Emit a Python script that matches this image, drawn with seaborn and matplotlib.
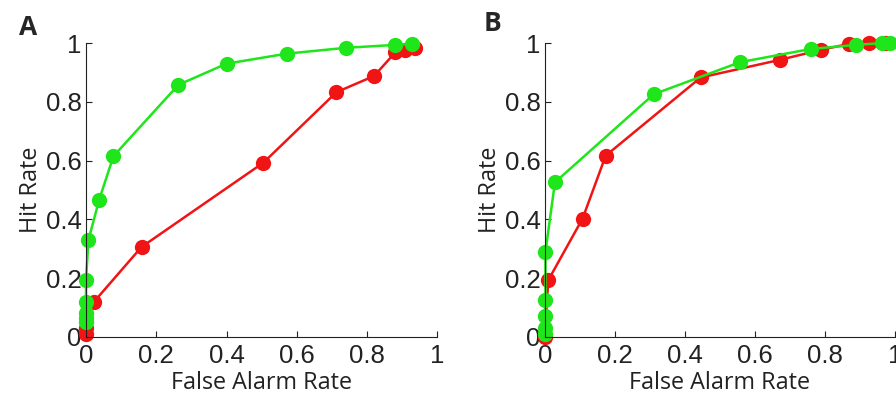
import matplotlib
matplotlib.use("Agg")
import matplotlib.pyplot as plt
import seaborn as sns

# panel A
a_green_x = [0.0, 0.0, 0.0, 0.0, 0.0, 0.007, 0.037, 0.078, 0.263, 0.40, 0.571, 0.739, 0.881, 0.927]
a_green_y = [0.05, 0.065, 0.08, 0.12, 0.195, 0.33, 0.465, 0.615, 0.858, 0.93, 0.964, 0.984, 0.994, 0.998]
a_red_x = [0.0, 0.0, 0.023, 0.158, 0.505, 0.713, 0.82, 0.881, 0.908, 0.936]
a_red_y = [0.01, 0.03, 0.12, 0.306, 0.593, 0.833, 0.888, 0.969, 0.975, 0.983]

# panel B
b_green_x = [0.0, 0.0, 0.0, 0.002, 0.002, 0.029, 0.311, 0.557, 0.759, 0.888, 0.962, 0.986]
b_green_y = [0.01, 0.03, 0.07, 0.125, 0.29, 0.526, 0.826, 0.935, 0.98, 0.994, 1.0, 1.0]
b_red_x = [0.0, 0.01, 0.108, 0.174, 0.445, 0.671, 0.788, 0.867, 0.926, 0.971]
b_red_y = [0.0, 0.193, 0.403, 0.617, 0.883, 0.943, 0.977, 0.997, 1.0, 1.0]

ticks = [0, 0.2, 0.4, 0.6, 0.8, 1]
tick_labels = ["0", "0.2", "0.4", "0.6", "0.8", "1"]
panels = ["A", "B"]
letter_pos = [(-0.19, 1.054), (-0.174, 1.066)]

GREEN = "#1ee61a"
RED = "#f01414"

sns.set_theme(style="ticks")
plt.rcParams["font.family"] = ["Liberation Sans", "DejaVu Sans"]

fig = plt.figure(figsize=(8.96, 4.03), dpi=100)
ax_a = fig.add_axes([0.096, 0.164, 0.392, 0.729])
ax_b = fig.add_axes([0.608, 0.164, 0.391, 0.729])

data = [
    (ax_a, a_red_x, a_red_y, a_green_x, a_green_y),
    (ax_b, b_red_x, b_red_y, b_green_x, b_green_y),
]

for (ax, rx, ry, gx, gy), name, (lx, ly) in zip(data, panels, letter_pos):
    for xs, ys, col in [(rx, ry, RED), (gx, gy, GREEN)]:
        sns.lineplot(x=xs, y=ys, ax=ax, sort=False, color=col, linewidth=1.8,
                     marker="o", markersize=11, markeredgewidth=0,
                     estimator=None, clip_on=False)
    ax.set_xlim(0, 1)
    ax.set_ylim(0, 1)
    ax.set_xticks(ticks)
    ax.set_xticklabels(tick_labels)
    ax.set_yticks(ticks)
    ax.set_yticklabels(tick_labels)
    ax.tick_params(direction="in", length=4, width=0.8, labelsize=18.5,
                   colors="#222222")
    ax.tick_params(axis="x", pad=5)
    ax.tick_params(axis="y", pad=3)
    for s in ["top", "right"]:
        ax.spines[s].set_visible(False)
    for s in ["left", "bottom"]:
        ax.spines[s].set_linewidth(0.8)
        ax.spines[s].set_color("#222222")
    ax.set_xlabel("False Alarm Rate", fontsize=16.8, family=["Open Sans", "DejaVu Sans"],
                  color="#222222", labelpad=2)
    ax.set_ylabel("Hit Rate", fontsize=16.8, family=["Open Sans", "DejaVu Sans"],
                  color="#222222", labelpad=2)
    ax.text(lx, ly, name, transform=ax.transAxes, fontsize=19,
            fontweight="bold", family=["Open Sans", "DejaVu Sans"], ha="left", va="center")

fig.savefig("out.png", dpi=100)
